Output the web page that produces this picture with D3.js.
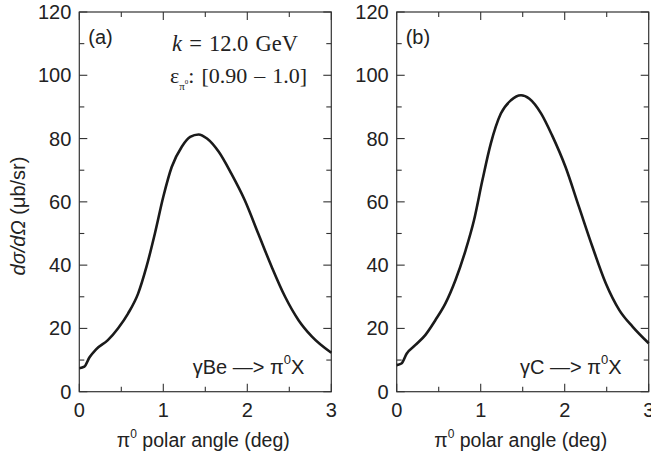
<!DOCTYPE html>
<html>
<head>
<meta charset="utf-8">
<script src="https://cdn.jsdelivr.net/npm/d3@7"></script>
<style>
  html, body { margin: 0; padding: 0; background: #fff; }
  svg text { font-family: "Liberation Sans", Arial, sans-serif; fill: #222; }
</style>
</head>
<body>
<svg id="chart" width="651" height="459"></svg>
<script>
// Differential cross section vs pi0 polar angle, k = 12.0 GeV, eps in [0.90 - 1.0]
const angleBe = [0, 0.06, 0.12, 0.2, 0.34, 0.46, 0.58, 0.70, 0.80, 0.90, 1.0, 1.10, 1.22, 1.32, 1.42, 1.52, 1.66, 1.81, 1.97, 2.13, 2.29, 2.45, 2.61, 2.77, 3.0];
const xsecBe  = [7.4, 7.9, 10.8, 13.4, 16.3, 20.0, 24.7, 31.0, 39.5, 50.0, 61.6, 71.0, 77.4, 80.5, 81.3, 80.0, 75.8, 68.9, 60.5, 50.0, 39.5, 30.0, 22.6, 17.4, 12.3];

const angleC = [0, 0.056, 0.12, 0.22, 0.34, 0.46, 0.58, 0.70, 0.82, 0.92, 1.02, 1.12, 1.24, 1.36, 1.48, 1.58, 1.72, 1.85, 2.01, 2.17, 2.33, 2.49, 2.65, 2.81, 3.0];
const xsecC  = [8.4, 8.9, 12.1, 14.7, 17.9, 22.6, 27.9, 35.3, 44.7, 54.2, 66.8, 78.4, 87.9, 92.1, 93.7, 92.6, 87.9, 81.0, 71.0, 58.4, 45.8, 34.2, 25.8, 20.5, 15.3];

const xTicks = [0, 1, 2, 3];
const xMinorTicks = [0.5, 1.5, 2.5];
const yTicks = [0, 20, 40, 60, 80, 100, 120];
const yMinorTicks = [10, 30, 50, 70, 90, 110];

const panelLabels = ["(a)", "(b)"];
const reactionTargets = ["Be", "C"];

const svg = d3.select("#chart");
const plotTop = 12, plotBottom = 391.7;
const panels = [
  { left: 79.3, right: 331.3, angle: angleBe, xsec: xsecBe },
  { left: 396.7, right: 648.7, angle: angleC, xsec: xsecC }
];

const y = d3.scaleLinear().domain([0, 120]).range([plotBottom, plotTop]);
const axisColor = "#333";

panels.forEach((p, i) => {
  const x = d3.scaleLinear().domain([0, 3]).range([p.left, p.right]);
  const g = svg.append("g");

  // frame
  g.append("rect")
    .attr("x", p.left).attr("y", plotTop)
    .attr("width", p.right - p.left).attr("height", plotBottom - plotTop)
    .attr("fill", "none").attr("stroke", axisColor).attr("stroke-width", 1.2);

  // inward ticks on all four sides
  const tk = (x1, y1, x2, y2) => g.append("line")
    .attr("x1", x1).attr("y1", y1).attr("x2", x2).attr("y2", y2)
    .attr("stroke", axisColor).attr("stroke-width", 1.1);
  xTicks.forEach(v => { tk(x(v), plotBottom, x(v), plotBottom - 8); tk(x(v), plotTop, x(v), plotTop + 8); });
  xMinorTicks.forEach(v => { tk(x(v), plotBottom, x(v), plotBottom - 5); tk(x(v), plotTop, x(v), plotTop + 5); });
  yTicks.forEach(v => { tk(p.left, y(v), p.left + 8, y(v)); tk(p.right, y(v), p.right - 8, y(v)); });
  yMinorTicks.forEach(v => { tk(p.left, y(v), p.left + 5, y(v)); tk(p.right, y(v), p.right - 5, y(v)); });

  // tick labels
  g.selectAll(".xl").data(xTicks).enter().append("text")
    .attr("x", d => x(d)).attr("y", 417)
    .attr("text-anchor", "middle").attr("font-size", 20)
    .text(d => d);
  g.selectAll(".yl").data(yTicks).enter().append("text")
    .attr("x", p.left - 8).attr("y", d => y(d) + 7)
    .attr("text-anchor", "end").attr("font-size", 20)
    .text(d => d);

  // x axis title
  const xt = g.append("text")
    .attr("x", (p.left + p.right) / 2 - 2).attr("y", 447)
    .attr("text-anchor", "middle").attr("font-size", 19.5);
  xt.append("tspan").text("\u03C0");
  xt.append("tspan").attr("font-size", 12).attr("dy", -9).text("0");
  xt.append("tspan").attr("dy", 9).text(" polar angle (deg)");

  // panel label
  g.append("text").attr("x", p.left + 9).attr("y", 44)
    .attr("font-size", 20).text(panelLabels[i]);

  // reaction label
  const rl = g.append("text")
    .attr("x", p.left + 225).attr("y", 374)
    .attr("text-anchor", "end").attr("font-size", 20);
  rl.append("tspan").text("\u03B3" + reactionTargets[i] + " \u2014> \u03C0");
  rl.append("tspan").attr("font-size", 13).attr("dy", -10).text("0");
  rl.append("tspan").attr("dy", 10).text("X");

  // curve
  const line = d3.line()
    .x((d, j) => x(p.angle[j]))
    .y((d, j) => y(p.xsec[j]))
    .curve(d3.curveMonotoneX);
  g.append("path")
    .attr("d", line(p.angle))
    .attr("fill", "none").attr("stroke", "#1a1a1a")
    .attr("stroke-width", 2.6).attr("stroke-linejoin", "round");
});

// kinematics annotation in panel (a)
const serif = '"Liberation Serif", "Times New Roman", serif';
const k = svg.append("text").attr("x", 172).attr("y", 51)
  .attr("font-size", 22.5).attr("word-spacing", 1.5).style("font-family", serif);
k.append("tspan").attr("font-style", "italic").text("k");
k.append("tspan").text(" = 12.0 GeV");

const e = svg.append("text").attr("x", 170).attr("y", 83)
  .attr("font-size", 22).attr("word-spacing", 1.5).style("font-family", serif);
e.append("tspan").text("\u03B5");
e.append("tspan").attr("font-size", 11).attr("dy", 7).text("\u03C0");
e.append("tspan").attr("font-size", 7).attr("dy", -6).text("0");
e.append("tspan").attr("dy", -1).text(": [0.90 \u2013 1.0]");

// y axis title
const yt = svg.append("text")
  .attr("transform", "translate(25,216) rotate(-90)")
  .attr("text-anchor", "middle").attr("font-size", 20);
yt.append("tspan").attr("font-style", "italic").text("d\u03C3/d\u03A9");
yt.append("tspan").text(" (\u03BCb/sr)");
</script>
</body>
</html>
